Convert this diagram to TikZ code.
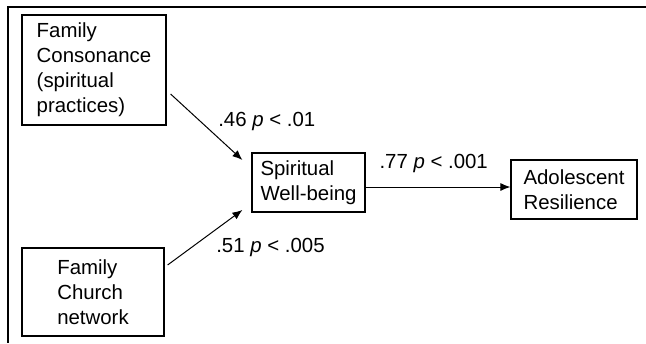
\documentclass[tikz,border=0pt]{standalone}
\usepackage{fontspec}
\setmainfont{Liberation Sans}
\usetikzlibrary{positioning,arrows.meta}

\begin{document}
\begin{tikzpicture}[x=0.5pt,y=-0.5pt,
   font=\fontsize{10.2pt}{12.5pt}\selectfont,
   var/.style={draw,line width=0.6pt,align=left,inner sep=0pt},
   coef/.style={inner sep=0pt}]
   \useasboundingbox (0,0) rectangle (646,343);
   \draw[line width=0.75pt] (646,7) -- (8,7) -- (8,343);

   \node[var, minimum width=72pt, minimum height=55pt] (cons) at (94,70) {Family\\Consonance\\(spiritual\\practices)};
   \node[var, minimum width=71pt, minimum height=44pt] (church) at (93,292) {Family\\Church\\network};
   \node[var, minimum width=56.5pt, minimum height=29.5pt] (swb) at (308.5,182.5) {Spiritual\\Well-being};
   \node[var, minimum width=63pt, minimum height=29.5pt] (res) at (574,189.5) {Adolescent\\Resilience};

   \path[-{Latex[length=5pt,width=4pt]}, line width=0.5pt]
   ([xshift=2pt,yshift=-12pt]cons.east) edge node[coef, pos=0.42, anchor=west, xshift=8.5pt] {.46 \textit{p} < .01} ([xshift=-4.5pt,yshift=11.25pt]swb.west)
   ([xshift=1.5pt,yshift=13.5pt]church.east) edge node[coef, pos=0.31, anchor=west, xshift=12.5pt] {.51 \textit{p} < .005} ([xshift=-4.5pt,yshift=-13.75pt]swb.west)
   ([yshift=-2.25pt]swb.east) edge node[coef, pos=0.47, yshift=12pt] {.77 \textit{p} < .001} ([yshift=1.25pt]res.west);
\end{tikzpicture}
\end{document}
